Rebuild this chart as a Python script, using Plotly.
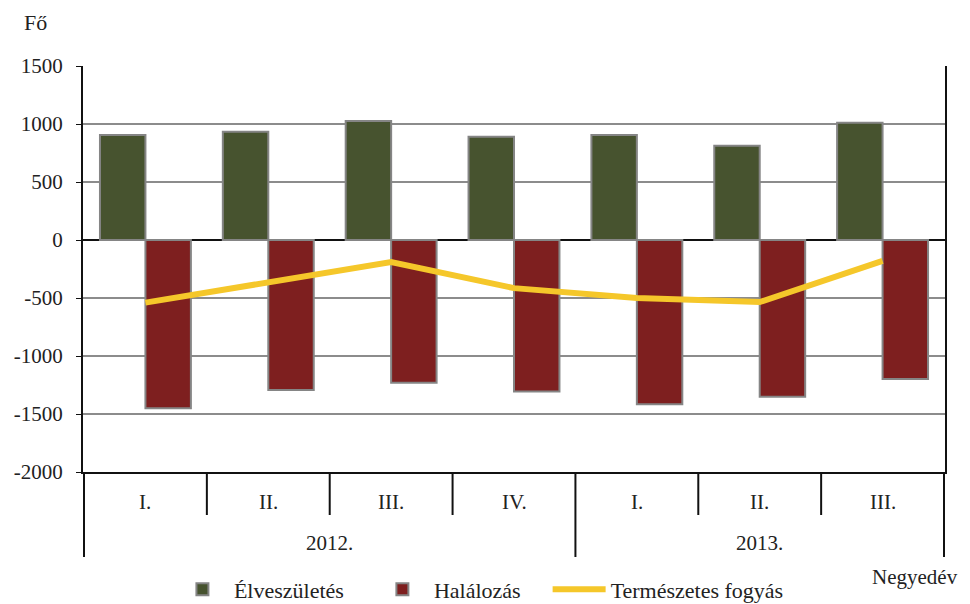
import plotly.graph_objects as go

years = ["2012.", "2012.", "2012.", "2012.", "2013.", "2013.", "2013."]
quarters = ["I.", "II.", "III.", "IV.", "I.", "II.", "III."]
births = [905, 934, 1026, 891, 905, 813, 1011]
deaths = [-1451, -1293, -1230, -1307, -1417, -1351, -1198]
natural_decrease = [-540, -360, -190, -415, -500, -535, -180]
y_ticks = [1500, 1000, 500, 0, -500, -1000, -1500, -2000]
y_ticktext = ["1500", "1000", "500", "0", "-500", "-1000", "-1500", "-2000"]
series_names = ["Élveszületés", "Halálozás", "Természetes fogyás"]

FONT = "Liberation Serif, Times New Roman, serif"
FS = 21
LEG_FS = 22
PAD = "\u00a0" * 4  # extra space after legend entries, as in the reference
x = [years, quarters]

fig = go.Figure()
fig.add_trace(go.Bar(x=x, y=births, name=series_names[0] + PAD,
                     marker=dict(color="#47532f", line=dict(color="#858585", width=2))))
fig.add_trace(go.Bar(x=x, y=deaths, name=series_names[1] + PAD,
                     marker=dict(color="#7e1f1f", line=dict(color="#858585", width=2))))
fig.add_trace(go.Scatter(x=x, y=natural_decrease, name=series_names[2], mode="lines",
                         line=dict(color="#f5c72a", width=6)))

# page body has an 8px margin, so the figure is laid out 8px up/left of the screen
M_L, M_T, M_R, M_B = 75, 58, 33, 140
plot_h = 604 - M_T - M_B

# ---- category axis decoration (two-level table under the plot) ----
inner_depth = 43 / plot_h
outer_depth = 85 / plot_h
shapes = []
annotations = []
n = len(quarters)
groups = []
start = 0
for i in range(1, n + 1):
    if i == n or years[i] != years[start]:
        groups.append((years[start], start, i - 1))
        start = i
boundaries = {-0.5} | {g[2] + 0.5 for g in groups}
for b in sorted(boundaries):
    shapes.append(dict(type="line", xref="x", yref="paper", x0=b, x1=b, y0=0, y1=-outer_depth,
                       line=dict(color="#111", width=2)))
for i in range(n - 1):
    if i + 0.5 not in boundaries:
        shapes.append(dict(type="line", xref="x", yref="paper", x0=i + 0.5, x1=i + 0.5,
                           y0=0, y1=-inner_depth, line=dict(color="#111", width=2)))
for i, q in enumerate(quarters):
    annotations.append(dict(text=q, xref="x", yref="paper", x=i, y=-30 / plot_h,
                            showarrow=False, xanchor="center", yanchor="middle",
                            font=dict(family=FONT, size=FS, color="#222")))
for yr, a, b in groups:
    annotations.append(dict(text=yr, xref="x", yref="paper", x=(a + b) / 2, y=-71 / plot_h,
                            showarrow=False, xanchor="center", yanchor="middle",
                            font=dict(family=FONT, size=FS, color="#222")))
annotations += [
    dict(text="Fő", xref="paper", yref="paper", x=-0.071, y=1.106, showarrow=False,
         xanchor="left", yanchor="middle", font=dict(family=FONT, size=22, color="#222")),
    dict(text="Negyedév", xref="paper", yref="paper", x=1.0175, y=-0.258, showarrow=False,
         xanchor="right", yanchor="middle", font=dict(family=FONT, size=FS, color="#222")),
]

fig.update_layout(
    width=970, height=604,
    margin=dict(l=M_L, r=M_R, t=M_T, b=M_B, autoexpand=False),
    paper_bgcolor="white", plot_bgcolor="white",
    barmode="group", bargap=0.26, bargroupgap=0,
    font=dict(family=FONT, size=FS, color="#222"),
    showlegend=True,
    legend=dict(orientation="h", x=0.102, y=-0.289, xanchor="left", yanchor="middle",
                font=dict(family=FONT, size=LEG_FS, color="#222"), itemwidth=53,
                traceorder="normal"),
    xaxis=dict(type="multicategory", showline=True, linecolor="#111", linewidth=2,
               ticks="", showticklabels=False, showdividers=False, showgrid=False,
               automargin=False),
    yaxis=dict(range=[-2000, 1500], tickvals=y_ticks, ticktext=y_ticktext,
               showgrid=True, gridcolor="#8c8c8c",
               gridwidth=2, showline=True, linecolor="#111", linewidth=2, ticks="outside",
               ticklen=5, tickcolor="#111", zeroline=True, zerolinecolor="#111",
               zerolinewidth=2, mirror=True, automargin=False, ticklabelstandoff=9,
               tickfont=dict(family=FONT, size=FS, color="#222")),
    shapes=shapes,
    annotations=annotations,
)
fig.write_html("out.html")
